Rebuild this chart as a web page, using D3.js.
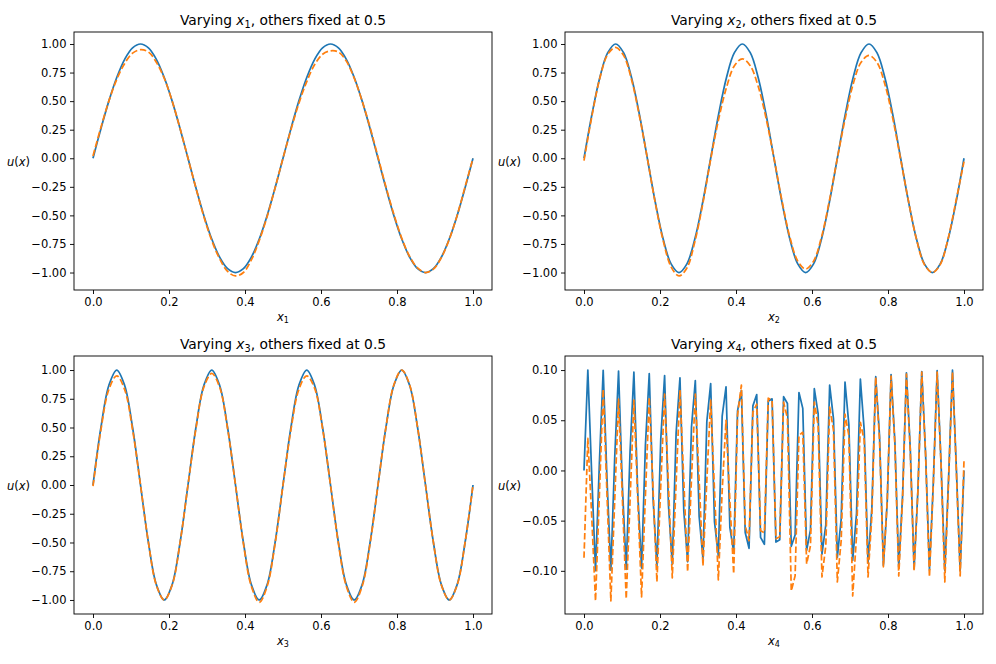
<!DOCTYPE html>
<html>
<head>
<meta charset="utf-8">
<script src="https://cdn.jsdelivr.net/npm/d3@7"></script>
<style>
  body { margin: 0; background: #fff; }
  svg { font-family: "DejaVu Sans", sans-serif; }
</style>
</head>
<body>
<svg id="chart"></svg>
<script>
// sampling grids (the smooth panels are read every 1/48, panel 4 has 100 samples)
var xGrid = d3.range(49).map(function(i) { return i / 48; });
var x4Grid = d3.range(100).map(function(i) { return i / 99; });

// panel 1 : varying x1
var u1True = [0, 0.259, 0.5, 0.707, 0.866, 0.966, 1, 0.966, 0.866, 0.707, 0.5, 0.259,
  0, -0.259, -0.5, -0.707, -0.866, -0.966, -1, -0.966, -0.866, -0.707, -0.5, -0.259,
  0, 0.259, 0.5, 0.707, 0.866, 0.966, 1, 0.966, 0.866, 0.707, 0.5, 0.259,
  0, -0.259, -0.5, -0.707, -0.866, -0.966, -1, -0.966, -0.866, -0.707, -0.5, -0.259, 0];
var u1Pred = [0.02, 0.27, 0.50, 0.69, 0.83, 0.92, 0.95, 0.93, 0.84, 0.70, 0.50, 0.26,
  0.0, -0.26, -0.51, -0.72, -0.88, -0.99, -1.03, -1.00, -0.89, -0.72, -0.51, -0.26,
  0.0, 0.25, 0.48, 0.67, 0.82, 0.91, 0.94, 0.93, 0.85, 0.70, 0.50, 0.27,
  0.01, -0.25, -0.49, -0.70, -0.86, -0.96, -1.00, -0.97, -0.87, -0.71, -0.50, -0.25, 0.0];

// panel 2 : varying x2
var u2True = [0, 0.383, 0.707, 0.924, 1, 0.924, 0.707, 0.383, 0, -0.383, -0.707, -0.924, -1, -0.924, -0.707, -0.383,
  0, 0.383, 0.707, 0.924, 1, 0.924, 0.707, 0.383, 0, -0.383, -0.707, -0.924, -1, -0.924, -0.707, -0.383,
  0, 0.383, 0.707, 0.924, 1, 0.924, 0.707, 0.383, 0, -0.383, -0.707, -0.924, -1, -0.924, -0.707, -0.383, 0];
var u2Pred = [-0.02, 0.37, 0.70, 0.91, 0.97, 0.90, 0.69, 0.37, 0.0, -0.39, -0.72, -0.95, -1.03, -0.96, -0.73, -0.40,
  -0.01, 0.34, 0.62, 0.81, 0.87, 0.81, 0.63, 0.35, 0.0, -0.37, -0.69, -0.90, -0.97, -0.90, -0.69, -0.37,
  0.0, 0.35, 0.65, 0.84, 0.90, 0.84, 0.65, 0.35, -0.01, -0.38, -0.71, -0.93, -1.00, -0.93, -0.70, -0.37, -0.03];

// panel 3 : varying x3
var u3True = [0, 0.5, 0.866, 1, 0.866, 0.5, 0, -0.5, -0.866, -1, -0.866, -0.5,
  0, 0.5, 0.866, 1, 0.866, 0.5, 0, -0.5, -0.866, -1, -0.866, -0.5,
  0, 0.5, 0.866, 1, 0.866, 0.5, 0, -0.5, -0.866, -1, -0.866, -0.5,
  0, 0.5, 0.866, 1, 0.866, 0.5, 0, -0.5, -0.866, -1, -0.866, -0.5, 0];
var u3Pred = [-0.01, 0.48, 0.83, 0.95, 0.83, 0.48, 0.0, -0.50, -0.87, -1.00, -0.87, -0.50,
  0.0, 0.49, 0.85, 0.97, 0.85, 0.49, 0.0, -0.51, -0.88, -1.02, -0.88, -0.51,
  0.0, 0.48, 0.83, 0.95, 0.84, 0.49, 0.0, -0.51, -0.88, -1.02, -0.88, -0.51,
  0.0, 0.50, 0.87, 1.00, 0.87, 0.50, 0.0, -0.50, -0.87, -1.00, -0.87, -0.50, 0.0];

// panel 4 : varying x4 (100 samples, aliased)
var u4True = [0, 0.1, -0.0032, -0.0999, 0.0063, 0.0997, -0.0095, -0.0994,
  0.0127, 0.099, -0.0158, -0.0985, 0.0189, 0.0979, -0.022, -0.0972,
  0.0251, 0.0964, -0.0282, -0.0955, 0.0312, 0.0945, -0.0342, -0.0934,
  0.0372, 0.0922, -0.0401, -0.091, 0.043, 0.0896, -0.0458, -0.0881,
  0.0486, 0.0866, -0.0513, -0.085, 0.0541, 0.0833, -0.0567, -0.0814,
  0.0593, 0.0795, -0.0618, -0.0776, 0.0643, 0.0756, -0.0667, -0.0735,
  0.069, 0.0713, -0.0713, -0.069, 0.0735, 0.0667, -0.0756, -0.0643,
  0.0776, 0.0618, -0.0795, -0.0593, 0.0814, 0.0567, -0.0833, -0.0541,
  0.085, 0.0513, -0.0866, -0.0486, 0.0881, 0.0458, -0.0896, -0.043,
  0.091, 0.0401, -0.0922, -0.0372, 0.0934, 0.0342, -0.0945, -0.0312,
  0.0955, 0.0282, -0.0964, -0.0251, 0.0972, 0.022, -0.0979, -0.0189,
  0.0985, 0.0158, -0.099, -0.0127, 0.0994, 0.0095, -0.0997, -0.0063,
  0.0999, 0.0032, -0.1, 0];
var u4Pred = [-0.087, 0.032, -0.045, -0.130, -0.025, 0.081, -0.025, -0.130,
  -0.030, 0.071, -0.028, -0.128, -0.030, 0.070, -0.028, -0.126,
  -0.025, 0.073, -0.020, -0.111, -0.015, 0.076, -0.015, -0.107,
  -0.012, 0.080, -0.010, -0.101, -0.008, 0.076, -0.010, -0.095,
  -0.010, 0.070, -0.020, -0.109, -0.020, 0.050, -0.030, -0.103,
  0.055, 0.085, -0.055, -0.070, 0.058, 0.066, -0.060, -0.062,
  0.072, 0.070, -0.068, -0.066, 0.068, 0.052, -0.120, -0.105,
  0.035, 0.038, -0.093, -0.075, 0.068, 0.045, -0.106, -0.075,
  0.063, 0.040, -0.111, -0.070, 0.056, 0.035, -0.125, -0.065,
  0.048, 0.030, -0.106, -0.045, 0.093, 0.030, -0.096, -0.030,
  0.094, 0.025, -0.105, -0.028, 0.096, 0.020, -0.100, -0.020,
  0.098, 0.015, -0.106, -0.015, 0.098, 0.008, -0.111, -0.008,
  0.098, 0.000, -0.105, 0.010];

var xTicks = [0, 0.2, 0.4, 0.6, 0.8, 1.0];
var yTicksBig = [-1, -0.75, -0.5, -0.25, 0, 0.25, 0.5, 0.75, 1];
var yTicksSmall = [-0.1, -0.05, 0, 0.05, 0.1];

var blue = "#1f77b4", orange = "#ff7f0e";
var svgWidth = 996, svgHeight = 664;
var axW = 418, axH = 258;

var svg = d3.select("#chart")
    .attr("width", svgWidth)
    .attr("height", svgHeight);

var panels = [
  {k: "1", left: 74,  top: 32,  xs: xGrid,  yt: u1True, yp: u1Pred, ydom: [-1.153, 1.105], yticks: yTicksBig, fmt: ".2f", smooth: true},
  {k: "2", left: 565, top: 32,  xs: xGrid,  yt: u2True, yp: u2Pred, ydom: [-1.153, 1.105], yticks: yTicksBig, fmt: ".2f", smooth: true},
  {k: "3", left: 74,  top: 356, xs: xGrid,  yt: u3True, yp: u3Pred, ydom: [-1.122, 1.122], yticks: yTicksBig, fmt: ".2f", smooth: true},
  {k: "4", left: 565, top: 356, xs: x4Grid, yt: u4True, yp: u4Pred, ydom: [-0.143, 0.114], yticks: yTicksSmall, fmt: ".2f", smooth: false}
];

panels.forEach(drawPanel);

function drawPanel(p) {
    var g = svg.append("g").attr("transform", "translate(" + p.left + "," + p.top + ")");

    var xScale = d3.scaleLinear().domain([-0.05, 1.05]).range([0, axW]);
    var yScale = d3.scaleLinear().domain(p.ydom).range([axH, 0]);

    // clip so nothing leaks past the frame
    var clipId = "clip" + p.k;
    g.append("clipPath").attr("id", clipId)
        .append("rect").attr("width", axW).attr("height", axH);

    var curve = p.smooth ? d3.curveCatmullRom : d3.curveLinear;
    var line = d3.line()
        .x(function(d) { return xScale(d[0]); })
        .y(function(d) { return yScale(d[1]); })
        .curve(curve);

    var plot = g.append("g").attr("clip-path", "url(#" + clipId + ")");
    plot.append("path")
        .datum(d3.zip(p.xs, p.yt))
        .attr("d", line)
        .attr("fill", "none")
        .attr("stroke", blue)
        .attr("stroke-width", 1.73)
        .attr("stroke-linejoin", "round");
    plot.append("path")
        .datum(d3.zip(p.xs, p.yp))
        .attr("d", line)
        .attr("fill", "none")
        .attr("stroke", orange)
        .attr("stroke-width", 1.73)
        .attr("stroke-dasharray", "6.4,2.77")
        .attr("stroke-linejoin", "round");

    // axes
    var xAxis = d3.axisBottom(xScale).tickValues(xTicks).tickFormat(d3.format(".1f"))
        .tickSize(4).tickPadding(3.5).tickSizeOuter(0);
    var yAxis = d3.axisLeft(yScale).tickValues(p.yticks).tickFormat(d3.format(p.fmt))
        .tickSize(4).tickPadding(3.5).tickSizeOuter(0);

    var gx = g.append("g").attr("transform", "translate(0," + axH + ")").call(xAxis);
    var gy = g.append("g").call(yAxis);
    [gx, gy].forEach(function(a) {
        a.select(".domain").remove();
        a.selectAll(".tick line").attr("stroke", "#000").attr("stroke-width", 0.92);
        a.selectAll(".tick text").attr("fill", "#000")
            .style("font-family", "DejaVu Sans").style("font-size", "11.5px");
    });

    // frame
    g.append("rect")
        .attr("width", axW).attr("height", axH)
        .attr("fill", "none").attr("stroke", "#000").attr("stroke-width", 0.92);

    // title
    var t = g.append("text")
        .attr("x", axW / 2).attr("y", -7)
        .attr("text-anchor", "middle")
        .style("font-size", "13.8px")
        .attr("fill", "#000");
    t.append("tspan").text("Varying ");
    t.append("tspan").attr("font-style", "italic").text("x");
    t.append("tspan").attr("font-size", "9.7px").attr("dy", 2.5).text(p.k);
    t.append("tspan").attr("dy", -2.5).text(", others fixed at 0.5");

    // x label
    var xl = g.append("text")
        .attr("x", axW / 2).attr("y", axH + 31)
        .attr("text-anchor", "middle")
        .style("font-size", "11.5px")
        .attr("fill", "#000");
    xl.append("tspan").attr("font-style", "italic").text("x");
    xl.append("tspan").attr("font-size", "8px").attr("dy", 2).text(p.k);

    // y label, horizontal
    var yl = g.append("text")
        .attr("x", -44).attr("y", axH / 2 + 5)
        .attr("text-anchor", "end")
        .style("font-size", "11.5px")
        .attr("fill", "#000");
    yl.append("tspan").attr("font-style", "italic").text("u");
    yl.append("tspan").text("(");
    yl.append("tspan").attr("font-style", "italic").text("x");
    yl.append("tspan").text(")");
}
</script>
</body>
</html>
